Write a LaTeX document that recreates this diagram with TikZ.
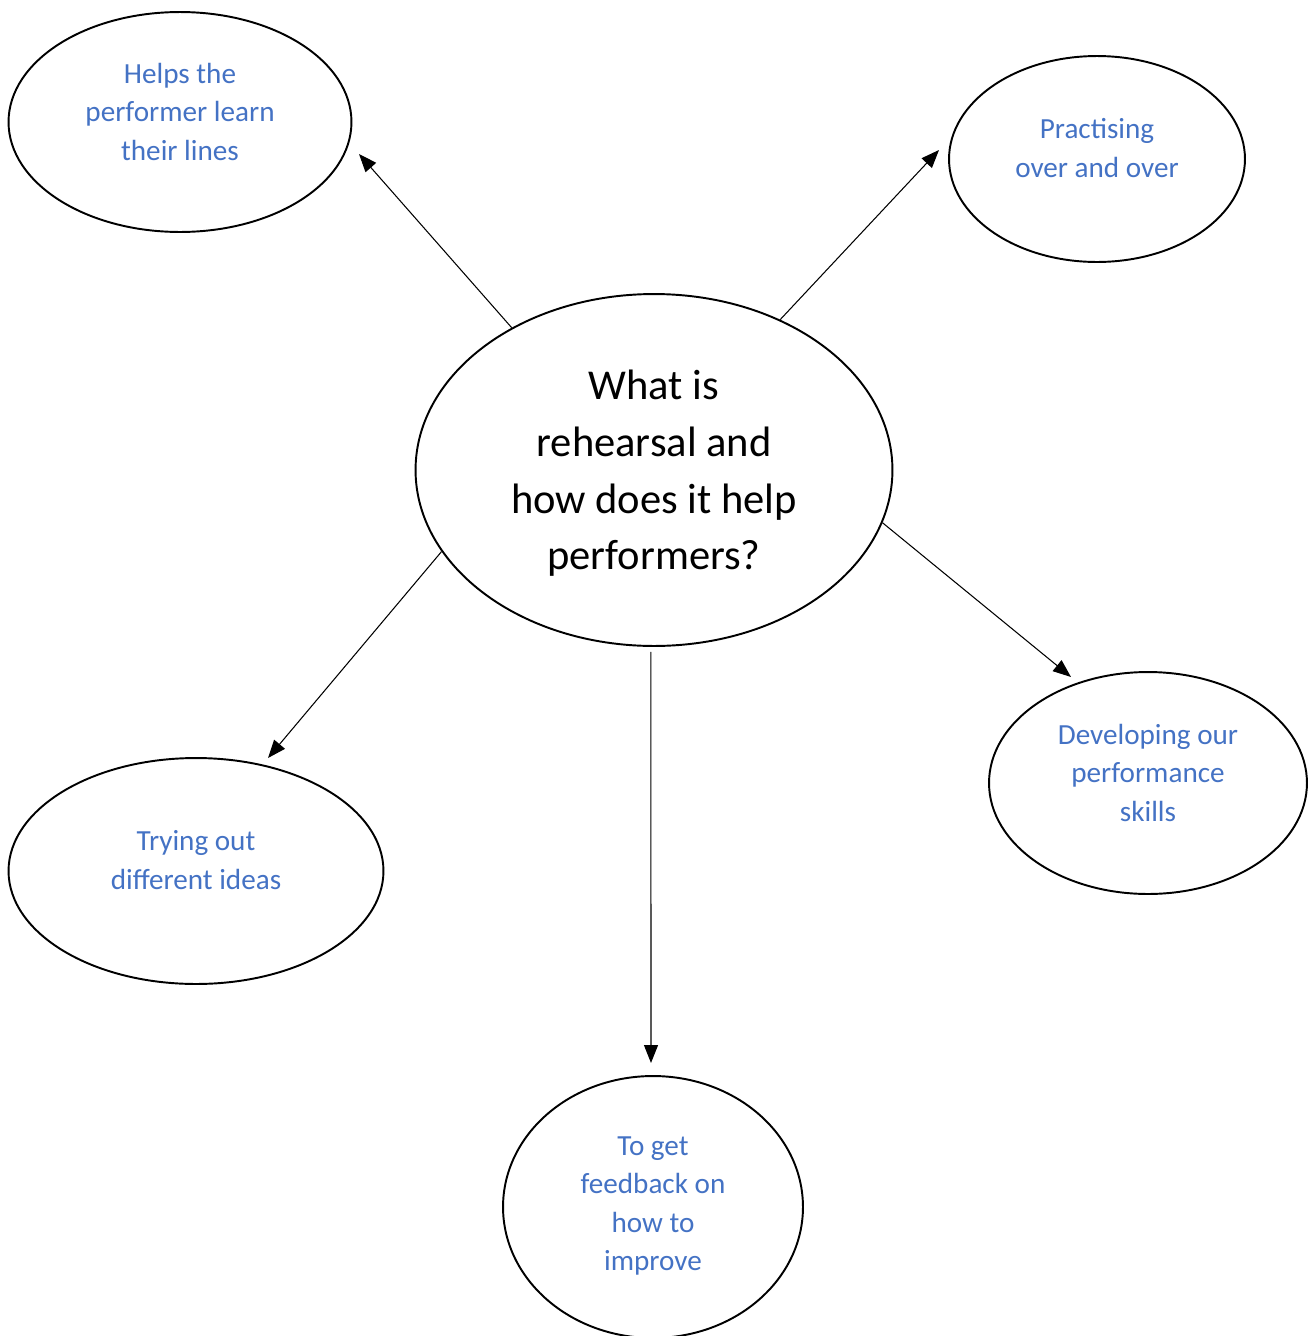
\documentclass[tikz,border=0pt]{standalone}
\usepackage{fontspec}
\setmainfont{Carlito}
\usepackage{tikz}
\usetikzlibrary{arrows.meta, positioning, shapes.geometric}
\definecolor{ideablue}{RGB}{68,114,196}

\begin{document}
\begin{tikzpicture}[x=0.02cm, y=-0.02cm, >={Triangle[length=0.36cm,width=0.28cm]},
        bubble/.style={ellipse,draw,line width=1.1pt,inner sep=0pt},
        idea/.style={text=ideablue,align=center,inner sep=0pt,
            font=\fontsize{16.6}{21.9}\selectfont}]
        \useasboundingbox (0,0) rectangle (1313,1336);
        % centre question
        \node[bubble,minimum width=9.54cm,minimum height=7.04cm,align=center,
            font=\fontsize{24.2}{32.4}\selectfont] (hub) at (654,470)
            {\rule{0pt}{20.5pt}What is\\rehearsal and\\how does it help\\performers?};
        % the five answers round it
        \node[bubble,minimum width=6.86cm,minimum height=4.40cm] (helps)    at (180,122)  {};
        \node[bubble,minimum width=5.92cm,minimum height=4.12cm] (practise) at (1097,159) {};
        \node[bubble,minimum width=6.36cm,minimum height=4.44cm] (develop)  at (1148,783) {};
        \node[bubble,minimum width=7.50cm,minimum height=4.52cm] (trying)   at (196,871)  {};
        \node[bubble,minimum width=6.00cm,minimum height=5.24cm] (feedback) at (653,1207) {};
        % texts, set a little above the middle
        \node[idea] (helps-txt)    at ([yshift=0.21cm]helps.center)    {Helps the\\performer learn\\their lines};
        \node[idea] (practise-txt) at ([yshift=0.22cm]practise.center) {Practising\\over and over};
        \node[idea] (develop-txt)  at ([yshift=0.21cm]develop.center)  {Developing our\\performance\\skills};
        \node[idea] (trying-txt)   at ([yshift=0.22cm]trying.center)   {Trying out\\different ideas};
        \node[idea] (feedback-txt) at ([yshift=0.02cm]feedback.center) {To get\\feedback on\\how to\\improve};
        % arrow tips stop short of the ellipses
        \coordinate (helps-tip)    at (359,154);
        \coordinate (practise-tip) at (939,150);
        \coordinate (develop-tip)  at (1071,677);
        \coordinate (trying-tip)   at (268,758);
        \coordinate (feedback-tip) at (651,1063);
        \tikzset{spoke/.style={->,line width=0.6pt}}
        \draw[spoke] (hub.135.4) -- (helps-tip);
        \draw[spoke] (hub.50.7)  -- (practise-tip);
        \draw[spoke] (hub.-13)   -- (develop-tip);
        \draw[spoke] (hub.201)   -- (trying-tip);
        \draw[spoke] ([yshift=-0.1cm]hub.-91) -- (feedback-tip);
    \end{tikzpicture}
\end{document}
